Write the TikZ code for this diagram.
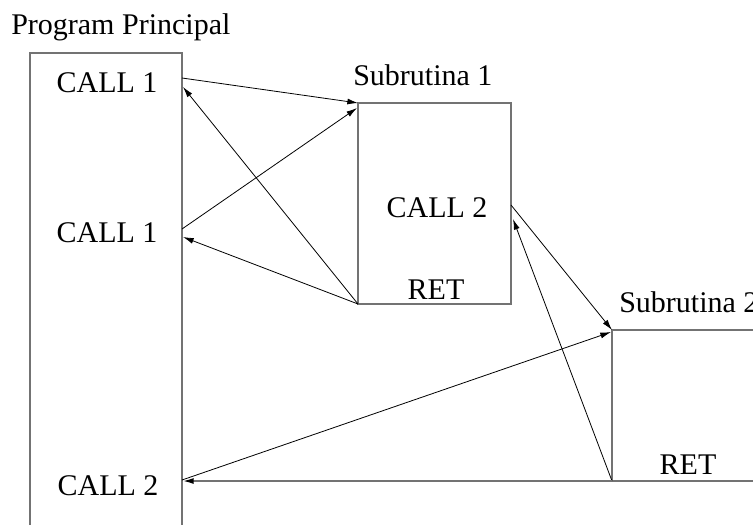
\documentclass[tikz,border=0pt]{standalone}
\usepackage{fontspec}
\setmainfont{Liberation Serif}
\usetikzlibrary{arrows.meta}
\begin{document}
\begin{tikzpicture}[x=0.75pt,y=-0.75pt,
  frame/.style={draw=black!55, line width=1.1pt},
  link/.style={draw=black, line width=0.6pt, -{Latex[length=8pt,width=4.5pt]}},
  lbl/.style={font=\fontsize{22.5}{27}\selectfont, inner sep=0pt, anchor=base}]
\useasboundingbox (0,0) rectangle (753,525);

% program and subroutine frames
\draw[frame] (30,525) -- (30,53) -- (182,53) -- (182,525);
\draw[frame] (358,103) rectangle (511,304);
\draw[frame] (760,330) -- (612,330) -- (612,481) -- (760,481);

% labels
\node[lbl, anchor=base west] (tmain) at (11,34) {Program Principal};
\node[lbl] (c1a) at (107,92) {CALL 1};
\node[lbl] (c1b) at (107,242) {CALL 1};
\node[lbl] (c2m) at (108,495) {CALL 2};
\node[lbl, anchor=base west] (tsub1) at (353,85) {Subrutina 1};
\node[lbl] (c2s) at (437,217) {CALL 2};
\node[lbl] (ret1) at (436,299) {RET};
\node[lbl, anchor=base west] (tsub2) at (619,312) {Subrutina 2};
\node[lbl] (ret2) at (688,474) {RET};

% connector end points
\coordinate (m1out) at (182,78);
\coordinate (m1in)  at (183,87);
\coordinate (m2out) at (182,229);
\coordinate (m2in)  at (183,237);
\coordinate (m3out) at (182,480);
\coordinate (m3in)  at (183,481);
\coordinate (s1top) at (358,103);
\coordinate (s1top2) at (357,108);
\coordinate (s1ret) at (358,304);
\coordinate (s1out) at (511,205);
\coordinate (s1in)  at (513,219);
\coordinate (s2top) at (612,330);
\coordinate (s2top2) at (611,332);
\coordinate (s2ret) at (612,481);

% calls and returns
\draw[link] (m1out) -- (s1top);
\draw[link] (s1ret) -- (m1in);
\draw[link] (m2out) -- (s1top2);
\draw[link] (s1ret) -- (m2in);
\draw[link] (s1out) -- (s2top);
\draw[link] (s2ret) -- (s1in);
\draw[link] (m3out) -- (s2top2);
\draw[link, draw=black!55, line width=1.1pt,
      -{Latex[length=8pt,width=4.5pt,color=black]}] (s2ret) -- (m3in);
\end{tikzpicture}
\end{document}
